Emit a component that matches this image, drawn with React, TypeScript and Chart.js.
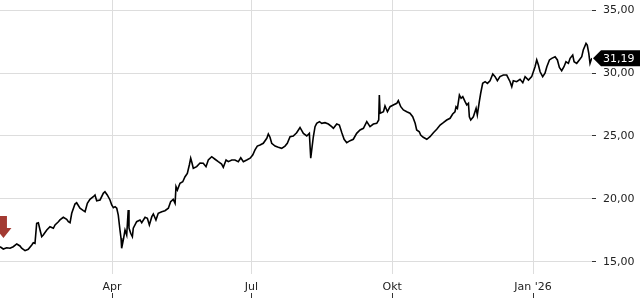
import React, { useEffect, useRef } from "react";
import { Chart, registerables } from "chart.js";

Chart.register(...registerables);

// Days counted from 1 Jan 2025 (day 0)
const days: number[] = [
  16.85, 19.0, 21.2, 23.4, 25.5, 27.8, 29.9, 31.0, 33.2, 35.3, 37.6, 38.6, 39.7, 40.8, 41.9, 43.0, 44.1, 45.1, 47.4, 49.5,
  51.7, 52.8, 55.0, 56.0, 58.2, 60.4, 61.5, 62.6, 63.7, 65.8, 66.9, 69.1, 71.3, 72.4, 73.9, 75.6, 77.8, 78.9, 80.0, 82.2,
  84.3, 85.4, 86.9, 88.7, 89.8, 90.9, 92.0, 93.1, 94.1, 95.2, 95.9, 96.3, 97.4, 98.5, 99.6, 100.6, 101.1, 102.2, 103.3, 103.9,
  106.1, 108.3, 109.4, 111.6, 113.1, 114.4, 116.0, 117.0, 118.7, 120.2, 122.5, 124.6, 126.8, 128.3, 130.0, 131.2, 131.8, 132.7, 134.4, 136.2,
  137.7, 139.2, 140.5, 141.4, 142.3, 143.1, 145.3, 147.5, 149.6, 151.4, 152.9, 155.1, 157.3, 159.4, 161.6, 162.7, 164.5, 166.0, 168.2, 170.3,
  172.5, 174.1, 175.8, 178.0, 180.2, 181.9, 183.4, 184.9, 186.7, 188.8, 191.1, 192.1, 193.2, 194.3, 196.5, 198.6, 200.8, 203.0, 204.5, 206.3,
  208.4, 210.6, 212.8, 215.0, 217.2, 218.9, 219.8, 220.7, 221.5, 222.6, 223.7, 225.5, 227.0, 229.1, 231.3, 233.5, 234.6, 236.8, 238.5, 240.1,
  241.6, 243.3, 245.5, 247.6, 249.8, 252.0, 254.2, 256.4, 258.5, 260.7, 262.9, 264.2, 264.6, 265.1, 267.3, 268.3, 269.9, 271.6, 273.7, 276.0,
  277.0, 278.6, 280.3, 282.5, 284.6, 286.4, 288.0, 289.0, 290.7, 291.6, 293.3, 295.6, 297.7, 299.9, 302.1, 304.3, 306.4, 308.6, 310.8, 312.5,
  314.0, 314.7, 315.6, 316.9, 318.0, 319.1, 320.6, 321.7, 322.8, 323.4, 324.3, 326.0, 327.8, 328.6, 329.9, 330.8, 332.1, 333.7, 335.2, 336.9,
  338.7, 340.2, 341.7, 343.4, 345.6, 347.8, 350.0, 351.1, 352.1, 354.3, 356.5, 358.3, 359.8, 362.0, 364.1, 365.2, 366.3, 367.4, 368.5, 369.6,
  371.3, 372.8, 374.0, 375.7, 377.2, 379.4, 380.9, 382.2, 383.7, 385.2, 386.5, 388.1, 389.2, 390.9, 391.8, 393.5, 395.2, 396.8, 397.8, 399.6,
  400.4, 401.4, 402.2, 402.9, 403.5,
];

const prices: number[] = [
  16.19, 16.01, 16.11, 16.07, 16.19, 16.41, 16.25, 16.07, 15.88, 15.99, 16.33, 16.51, 16.46, 18.05, 18.10, 17.52, 16.99, 17.12, 17.52, 17.78,
  17.66, 17.92, 18.18, 18.32, 18.53, 18.37, 18.18, 18.10, 18.85, 19.59, 19.69, 19.25, 19.06, 18.98, 19.65, 19.96, 20.17, 20.31, 19.85, 19.91,
  20.44, 20.57, 20.31, 19.91, 19.51, 19.30, 19.38, 19.25, 18.71, 17.52, 16.86, 16.07, 16.73, 17.52, 17.12, 19.11, 17.68, 17.26, 16.99, 17.66,
  18.18, 18.32, 18.10, 18.53, 18.45, 17.92, 18.58, 18.79, 18.32, 18.85, 18.98, 19.06, 19.25, 19.77, 19.96, 19.65, 20.97, 20.70, 21.24, 21.36,
  21.76, 22.03, 22.69, 23.23, 22.83, 22.43, 22.56, 22.85, 22.83, 22.56, 23.09, 23.35, 23.15, 22.96, 22.77, 22.51, 23.09, 22.96, 23.09, 23.09,
  22.96, 23.27, 22.96, 23.09, 23.23, 23.49, 23.89, 24.20, 24.28, 24.42, 24.82, 25.16, 24.90, 24.42, 24.20, 24.10, 24.02, 24.20, 24.42, 24.94,
  25.00, 25.26, 25.68, 25.21, 25.00, 25.21, 23.23, 24.15, 24.94, 25.74, 26.01, 26.14, 26.01, 26.06, 25.95, 25.74, 25.61, 25.95, 25.87, 25.26,
  24.74, 24.47, 24.63, 24.74, 25.21, 25.48, 25.61, 26.14, 25.74, 25.95, 26.01, 26.27, 28.26, 26.81, 26.93, 27.39, 26.93, 27.33, 27.47, 27.60,
  27.81, 27.33, 27.07, 26.93, 26.81, 26.53, 26.01, 25.48, 25.34, 25.08, 24.90, 24.74, 24.94, 25.26, 25.53, 25.87, 26.06, 26.27, 26.41, 26.75,
  26.93, 27.33, 27.20, 28.26, 28.00, 28.13, 27.73, 27.47, 27.60, 26.53, 26.27, 26.53, 27.20, 26.67, 27.73, 28.40, 29.19, 29.32, 29.19, 29.40,
  29.93, 29.72, 29.40, 29.73, 29.85, 29.85, 29.32, 28.92, 29.40, 29.32, 29.51, 29.24, 29.72, 29.45, 29.72, 30.11, 30.51, 31.05, 30.65, 30.11,
  29.72, 29.99, 30.51, 31.05, 31.18, 31.31, 31.05, 30.46, 30.19, 30.51, 30.91, 30.78, 31.18, 31.44, 30.91, 30.78, 31.05, 31.31, 31.84, 32.37,
  32.24, 31.58, 30.78, 31.05, 31.19,
];

const xTickDays: number[] = [90, 181, 273, 365];
const xTickLabels: string[] = ["Apr", "Jul", "Okt", "Jan '26"];
const yTickValues: number[] = [15, 20, 25, 30, 35];

const signalDay = 19.1;
const signalPrice = 16.01;
const lastPrice = prices[prices.length - 1];

const FONT = "'DejaVu Sans', sans-serif";

const overlayPlugin = {
  id: "overlay",
  afterDraw(chart: any) {
    const ctx = chart.ctx;
    const xs = chart.scales.x;
    const ys = chart.scales.y;
    const area = chart.chartArea;
    ctx.save();
    // small tick marks under x labels
    ctx.strokeStyle = "#333";
    ctx.lineWidth = 1;
    xTickDays.forEach((d) => {
      const px = Math.round(xs.getPixelForValue(d)) + 0.5;
      ctx.beginPath();
      ctx.moveTo(px, chart.height - 7);
      ctx.lineTo(px, chart.height - 2);
      ctx.stroke();
    });
    // signal arrow
    const ax = xs.getPixelForValue(signalDay);
    const tip = ys.getPixelForValue(signalPrice) - 11;
    ctx.fillStyle = "#a33a32";
    ctx.beginPath();
    ctx.moveTo(ax, tip);
    ctx.lineTo(ax + 8, tip - 10);
    ctx.lineTo(ax + 3.5, tip - 10);
    ctx.lineTo(ax + 3.5, tip - 22);
    ctx.lineTo(ax - 3.5, tip - 22);
    ctx.lineTo(ax - 3.5, tip - 10);
    ctx.lineTo(ax - 8, tip - 10);
    ctx.closePath();
    ctx.fill();
    // last price label
    const py = ys.getPixelForValue(lastPrice);
    const left = area.right + 1;
    ctx.fillStyle = "#000";
    ctx.beginPath();
    ctx.moveTo(left, py);
    ctx.lineTo(left + 8, py - 8);
    ctx.lineTo(chart.width, py - 8);
    ctx.lineTo(chart.width, py + 8);
    ctx.lineTo(left + 8, py + 8);
    ctx.closePath();
    ctx.fill();
    ctx.fillStyle = "#fff";
    ctx.font = "11px " + FONT;
    ctx.textBaseline = "middle";
    ctx.textAlign = "left";
    ctx.fillText(lastPrice.toFixed(2).replace(".", ","), left + 10, py + 0.5);
    ctx.restore();
  },
};

export default function App() {
  const ref = useRef<HTMLCanvasElement | null>(null);
  useEffect(() => {
    if (!ref.current) return;
    const chart = new Chart(ref.current, {
      type: "line",
      data: {
        datasets: [
          {
            data: days.map((d, i) => ({ x: d, y: prices[i] })),
            borderColor: "#000",
            borderWidth: 1.6,
            pointRadius: 0,
            tension: 0,
            fill: false,
          },
        ],
      },
      options: {
        animation: false,
        responsive: false,
        events: [],
        layout: { padding: 0 },
        plugins: { legend: { display: false }, tooltip: { enabled: false } },
        scales: {
          x: {
            type: "linear",
            min: 16.85,
            max: 403.5,
            grid: { color: "#dddddd", drawTicks: false },
            border: { display: false },
            afterBuildTicks: (scale: any) => {
              scale.ticks = xTickDays.map((v) => ({ value: v }));
            },
            afterFit: (scale: any) => {
              scale.height = 26;
              scale.paddingLeft = 0;
              scale.paddingRight = 0;
            },
            ticks: {
              autoSkip: false,
              maxRotation: 0,
              padding: 7,
              color: "#222",
              font: { family: FONT, size: 11 },
              callback: (v: any) => {
                const i = xTickDays.indexOf(Number(v));
                return i >= 0 ? xTickLabels[i] : "";
              },
            },
          },
          y: {
            type: "linear",
            position: "right",
            min: 14.02,
            max: 35.82,
            grid: { color: "#dddddd", tickColor: "#333", tickLength: 4, drawTicks: true },
            border: { display: false },
            afterBuildTicks: (scale: any) => {
              scale.ticks = yTickValues.map((v) => ({ value: v }));
            },
            afterFit: (scale: any) => {
              scale.width = 48;
              scale.paddingTop = 0;
              scale.paddingBottom = 0;
            },
            ticks: {
              padding: 7,
              color: "#222",
              font: { family: FONT, size: 11 },
              callback: (v: any) => Number(v).toFixed(2).replace(".", ","),
            },
          },
        },
      },
      plugins: [overlayPlugin],
    });
    return () => chart.destroy();
  }, []);
  return (
    <div style={{ position: "fixed", left: 0, top: 0, width: 640, height: 300, background: "#fff" }}>
      <canvas ref={ref} width={640} height={300} />
    </div>
  );
}
